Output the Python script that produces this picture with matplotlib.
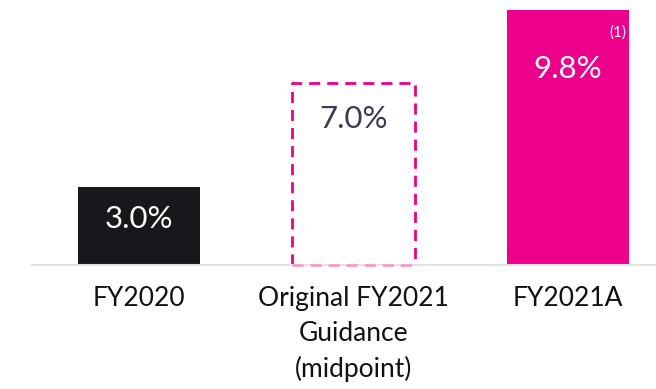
import matplotlib
matplotlib.use("Agg")
import matplotlib.pyplot as plt

# data
categories = ["FY2020", "Original FY2021\nGuidance\n(midpoint)", "FY2021A"]
values = [3.0, 7.0, 9.8]
value_labels = ["3.0%", "7.0%", "9.8%"]
footnote = "(1)"

black = "#18181c"
pink = "#ec008c"
light_pink = "#f29ccb"
text_dark = "#3a3a52"

plt.rcParams["font.family"] = ["Lato", "DejaVu Sans"]

fig = plt.figure(figsize=(6.56, 3.89), dpi=100)
W, H = 656, 389
# axes spans x 32..656, y baseline at 265 px, top at 10 px
ax = fig.add_axes([32 / W, (H - 265) / H, (W - 32) / W, 255 / H])

x = [0, 1, 2]
width = 0.57
ax.set_xlim(-0.499, 2.41)
ax.set_ylim(0, 9.8)

ax.bar(x[0], values[0], width=width, color=black)
ax.bar(x[2], values[2], width=width, color=pink)

# dashed guidance box
x0 = x[1] - width / 2
ax.plot([x0, x0, x0 + width, x0 + width], [0, values[1], values[1], 0],
        color=pink, lw=2, ls=(0, (4, 2.5)), solid_capstyle="butt", clip_on=False)
ax.plot([x0, x0 + width], [0, 0], color=light_pink, lw=2, ls=(0, (4, 2.5)), clip_on=False, zorder=5)

ax.text(x[0], values[0] / 2 + 0.25, value_labels[0], ha="center", va="center",
        color="white", fontsize=22.5)
ax.text(x[1], values[1] - 1.4, value_labels[1], ha="center", va="center",
        color=text_dark, fontsize=22.5)
ax.text(x[2], values[2] - 2.25, value_labels[2], ha="center", va="center",
        color="white", fontsize=22.5)
ax.text(x[2] + 0.23, values[2] - 0.85, footnote, ha="center", va="center",
        color="white", fontsize=11)

for s in ["top", "right", "left"]:
    ax.spines[s].set_visible(False)
ax.spines["bottom"].set_color("#e3e3e3")
ax.spines["bottom"].set_linewidth(1.5)
ax.set_yticks([])
ax.set_xticks(x)
ax.set_xticklabels(categories, fontsize=19, color="#111111", linespacing=1.5)
ax.tick_params(axis="x", length=0, pad=15)

fig.savefig("out.png", dpi=100)
